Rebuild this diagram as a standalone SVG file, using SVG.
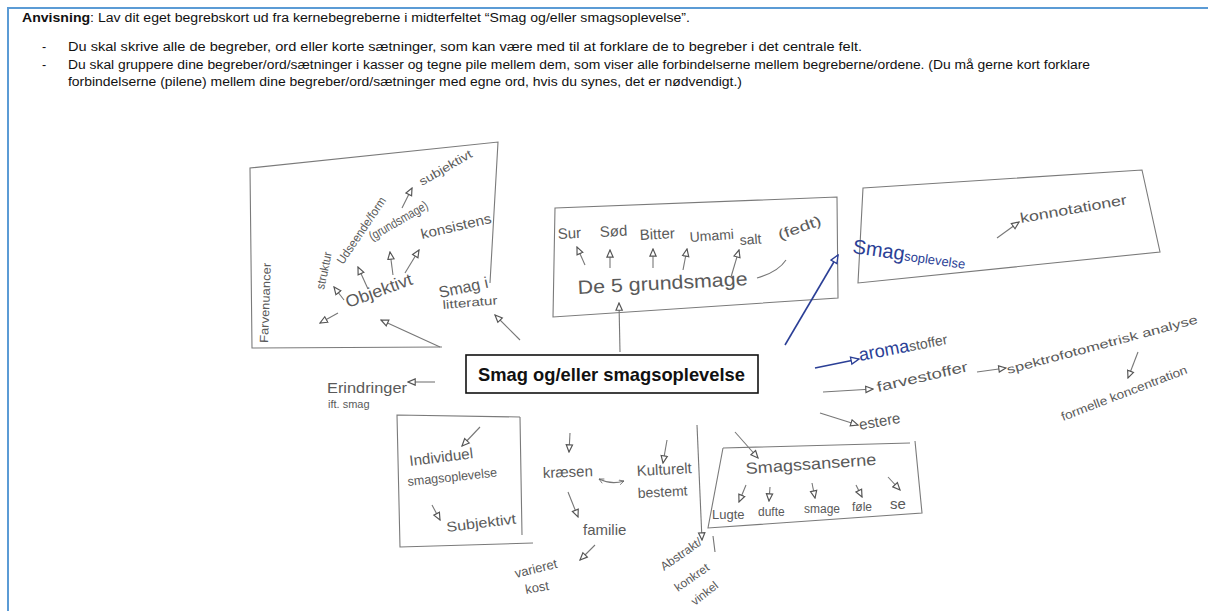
<svg xmlns="http://www.w3.org/2000/svg" width="1208" height="611" viewBox="0 0 1208 611">
<style>
.hd{font-family:"Liberation Sans",Arial,sans-serif;font-size:12.5px;fill:#111}
.hw{font-family:"Liberation Sans","DejaVu Sans",sans-serif;fill:#5a5a5a}
.box{fill:none;stroke:#7a7a7a;stroke-width:1.1}
.con{fill:none;stroke:#777;stroke-width:1.1;marker-end:url(#ah)}
.bl{fill:none;stroke:#2b3f96;stroke-width:1.6;marker-end:url(#ahb)}
.plain{fill:none;stroke:#777;stroke-width:1.1}
</style>
<defs>
<marker id="ah" viewBox="0 0 10 10" refX="9" refY="5" markerWidth="9" markerHeight="9" markerUnits="userSpaceOnUse" orient="auto">
<path d="M1,1.5 L9,5 L1,8.5 Z" fill="#fff" stroke="#555" stroke-width="1.3"/>
</marker>
<marker id="ahb" viewBox="0 0 10 10" refX="9" refY="5" markerWidth="10" markerHeight="10" markerUnits="userSpaceOnUse" orient="auto">
<path d="M1,1.5 L9,5 L1,8.5 Z" fill="#fff" stroke="#2b3f96" stroke-width="1.3"/>
</marker>
<marker id="chev" viewBox="0 0 10 10" refX="9" refY="5" markerWidth="6" markerHeight="6" markerUnits="userSpaceOnUse" orient="auto-start-reverse">
<path d="M1,1 L9,5 L1,9" fill="none" stroke="#666" stroke-width="1.3"/>
</marker>
</defs>
<rect width="1208" height="611" fill="#fff"/>
<g id="frame">
<path d="M8,611 L8,8 L1208,8" fill="none" stroke="#5b9bd5" stroke-width="2"/>
</g>
<g id="instructions">
<text class="hd" x="22" y="22" textLength="668" lengthAdjust="spacingAndGlyphs"><tspan font-weight="bold">Anvisning</tspan>: Lav dit eget begrebskort ud fra kernebegreberne i midterfeltet “Smag og/eller smagsoplevelse”.</text>
<text class="hd" x="42" y="51">-</text>
<text class="hd" x="68" y="51" textLength="794" lengthAdjust="spacingAndGlyphs">Du skal skrive alle de begreber, ord eller korte sætninger, som kan være med til at forklare de to begreber i det centrale felt.</text>
<text class="hd" x="42" y="69">-</text>
<text class="hd" x="68" y="69" textLength="1022" lengthAdjust="spacingAndGlyphs">Du skal gruppere dine begreber/ord/sætninger i kasser og tegne pile mellem dem, som viser alle forbindelserne mellem begreberne/ordene. (Du må gerne kort forklare</text>
<text class="hd" x="68" y="86" textLength="674" lengthAdjust="spacingAndGlyphs">forbindelserne (pilene) mellem dine begreber/ord/sætninger med egne ord, hvis du synes, det er nødvendigt.)</text>
</g>

<g id="center">
<rect x="466" y="355" width="292" height="38" fill="#fff" stroke="#111" stroke-width="1.6"/>
<text x="478" y="381" font-family="Liberation Sans,Arial,sans-serif" font-weight="bold" font-size="19" fill="#111" textLength="267" lengthAdjust="spacingAndGlyphs">Smag og/eller smagsoplevelse</text>
</g>

<g id="objektiv-box">
<path class="box" d="M490,283 L498,142 L250,168 L252,348 L442,347"/>
<text class="hw" font-size="12" x="268" y="343" textLength="80" lengthAdjust="spacingAndGlyphs" transform="rotate(-88 268 343)">Farvenuancer</text>
<text class="hw" font-size="12" x="324" y="290" textLength="38" lengthAdjust="spacingAndGlyphs" transform="rotate(-78 324 290)">struktur</text>
<text class="hw" font-size="12" x="343" y="265" textLength="78" lengthAdjust="spacingAndGlyphs" transform="rotate(-56 343 265)">Udseende/form</text>
<text class="hw" font-size="13" x="372" y="241" textLength="66" lengthAdjust="spacingAndGlyphs" transform="rotate(-30 372 241)">(grundsmage)</text>
<text class="hw" font-size="12" x="422" y="186" textLength="59" lengthAdjust="spacingAndGlyphs" transform="rotate(-30 422 186)">subjektivt</text>
<text class="hw" font-size="14" x="422" y="239" textLength="72" lengthAdjust="spacingAndGlyphs" transform="rotate(-13 422 239)">konsistens</text>
<text class="hw" font-size="17" x="348" y="308" textLength="70" lengthAdjust="spacingAndGlyphs" transform="rotate(-20 348 308)">Objektivt</text>
</g>

<g id="smag-i-litteratur">
<text class="hw" font-size="16" x="440" y="298" textLength="50" lengthAdjust="spacingAndGlyphs" transform="rotate(-12 440 298)">Smag i</text>
<text class="hw" font-size="12" x="443" y="309" textLength="55" lengthAdjust="spacingAndGlyphs" transform="rotate(-5 443 309)">litteratur</text>
</g>

<g id="grundsmage-box">
<path class="box" d="M555,208 L837,197 L838,298 L553,317 Z"/>
<text class="hw" font-size="15" x="558" y="239" transform="rotate(-3 558 239)">Sur</text>
<text class="hw" font-size="15" x="600" y="237" transform="rotate(-3 600 237)">Sød</text>
<text class="hw" font-size="15" x="640" y="240" transform="rotate(-3 640 240)">Bitter</text>
<text class="hw" font-size="14" x="690" y="242" transform="rotate(-4 690 242)">Umami</text>
<text class="hw" font-size="14" x="740" y="245" transform="rotate(-4 740 245)">salt</text>
<text class="hw" font-size="14" x="780" y="240" textLength="45" lengthAdjust="spacingAndGlyphs" transform="rotate(-20 780 240)">(fedt)</text>
<text class="hw" font-size="19" x="578" y="294" textLength="170" lengthAdjust="spacingAndGlyphs" transform="rotate(-3 578 294)">De 5 grundsmage</text>
</g>

<g id="smagsoplevelse-box">
<path class="box" d="M863,188 L1142,170 L1160,252 L858,283 Z"/>
<text font-family="Liberation Sans,sans-serif" fill="#2b3f96" x="852" y="253" transform="rotate(8 852 253)"><tspan font-size="20">Smag</tspan><tspan font-size="13">soplevelse</tspan></text>
<text class="hw" font-size="14" x="1021" y="223" textLength="108" lengthAdjust="spacingAndGlyphs" transform="rotate(-10 1021 223)">konnotationer</text>
</g>

<g id="aromastoffer">
<text font-family="Liberation Sans,sans-serif" x="860" y="361" transform="rotate(-11 860 361)"><tspan font-size="18" fill="#2b3f96">aroma</tspan><tspan font-size="14" fill="#5a5a5a">stoffer</tspan></text>
</g>
<g id="farvestoffer">
<text class="hw" font-size="14" x="878" y="392" textLength="93" lengthAdjust="spacingAndGlyphs" transform="rotate(-13 878 392)">farvestoffer</text>
</g>
<g id="spektro">
<text class="hw" font-size="12" x="1008" y="374" textLength="197" lengthAdjust="spacingAndGlyphs" transform="rotate(-15 1008 374)">spektrofotometrisk analyse</text>
</g>
<g id="koncentration">
<text class="hw" font-size="12" x="1063" y="421" textLength="134" lengthAdjust="spacingAndGlyphs" transform="rotate(-21 1063 421)">formelle koncentration</text>
</g>
<g id="estere">
<text class="hw" font-size="15" x="860" y="430" transform="rotate(-10 860 430)">estere</text>
</g>

<g id="smagssanserne-box">
<path class="box" d="M723,448 L910,443 M915,441 L922,513 L708,528 L723,448"/>
<text class="hw" font-size="16" x="746" y="474" textLength="131" lengthAdjust="spacingAndGlyphs" transform="rotate(-4 746 474)">Smagssanserne</text>
<text class="hw" font-size="13" x="712" y="519">Lugte</text>
<text class="hw" font-size="12" x="758" y="516">dufte</text>
<text class="hw" font-size="12" x="804" y="513">smage</text>
<text class="hw" font-size="12" x="852" y="511">føle</text>
<text class="hw" font-size="15" x="890" y="509">se</text>
</g>

<g id="abstrakt">
<text class="hw" font-size="12" x="664" y="571" transform="rotate(-35 664 571)">Abstrakt/</text>
<text class="hw" font-size="12" x="678" y="592" transform="rotate(-35 678 592)">konkret</text>
<text class="hw" font-size="12" x="695" y="606" transform="rotate(-38 695 606)">vinkel</text>
</g>

<g id="individuel-box">
<path class="box" d="M520,417 L397,415 L400,547 L533,543 M520,417 L522,535"/>
<text class="hw" font-size="15" x="410" y="466" textLength="64" lengthAdjust="spacingAndGlyphs" transform="rotate(-7 410 466)">Individuel</text>
<text class="hw" font-size="13" x="408" y="486" textLength="90" lengthAdjust="spacingAndGlyphs" transform="rotate(-6 408 486)">smagsoplevelse</text>
<text class="hw" font-size="14" x="447" y="532" textLength="70" lengthAdjust="spacingAndGlyphs" transform="rotate(-7 447 532)">Subjektivt</text>
</g>

<g id="kraesen">
<text class="hw" font-size="15" x="543" y="478" transform="rotate(-2 543 478)">kræsen</text>
</g>
<g id="kulturelt">
<text class="hw" font-size="15" x="637" y="476" transform="rotate(-3 637 476)">Kulturelt</text>
<text class="hw" font-size="14" x="638" y="498" transform="rotate(-3 638 498)">bestemt</text>
</g>
<g id="familie">
<text class="hw" font-size="15" x="583" y="535">familie</text>
</g>
<g id="varieret-kost">
<text class="hw" font-size="13" x="516" y="578" transform="rotate(-14 516 578)">varieret</text>
<text class="hw" font-size="13" x="526" y="594" transform="rotate(-10 526 594)">kost</text>
</g>
<g id="erindringer">
<text class="hw" font-size="15" x="327" y="393" textLength="80" lengthAdjust="spacingAndGlyphs">Erindringer</text>
<text class="hw" font-size="11" x="328" y="408">ift. smag</text>
</g>

<g id="connectors">
<path class="con" d="M338,313 L320,323"/>
<path class="con" d="M344,300 L334,287"/>
<path class="con" d="M368,289 L358,267"/>
<path class="con" d="M393,275 L390,252"/>
<path class="con" d="M405,273 L419,250"/>
<path class="con" d="M402,208 L412,188"/>
<path class="con" d="M440,347 L381,320"/>
<path class="con" d="M520,340 L495,315"/>
<path class="con" d="M585,265 L577,247"/>
<path class="con" d="M610,268 L610,250"/>
<path class="con" d="M653,268 L653,249"/>
<path class="con" d="M683,270 L687,249"/>
<path class="con" d="M731,277 L739,250"/>
<path class="plain" d="M757,278 Q778,272 786,260"/>
<path class="con" d="M620,352 L619,303"/>
<path class="bl" d="M785,345 L838,255"/>
<path class="con" d="M997,238 L1019,222"/>
<path class="bl" d="M815,368 L859,359"/>
<path class="con" d="M823,392 L873,389"/>
<path class="con" d="M977,372 L1006,368"/>
<path class="con" d="M1138,352 L1128,378"/>
<path class="con" d="M820,413 L858,425"/>
<path class="con" d="M735,432 L758,458"/>
<path class="con" d="M746,485 L739,502"/>
<path class="con" d="M770,487 L769,501"/>
<path class="con" d="M812,483 L815,498"/>
<path class="con" d="M856,485 L862,497"/>
<path class="con" d="M888,477 L900,490"/>
<path class="con" d="M697,425 L702,540"/>
<path class="plain" d="M713,536 L715,552"/>
<path class="con" d="M480,427 L462,446"/>
<path class="con" d="M432,505 L440,520"/>
<path class="con" d="M570,433 L569,452"/>
<path d="M599,479 Q611,485 624,481" fill="none" stroke="#777" stroke-width="1.1" marker-start="url(#chev)" marker-end="url(#chev)"/>
<path class="con" d="M667,440 L663,463"/>
<path class="con" d="M568,492 L578,517"/>
<path class="con" d="M595,545 L580,560"/>
<path class="con" d="M435,382 L408,382"/>
</g>
</svg>
